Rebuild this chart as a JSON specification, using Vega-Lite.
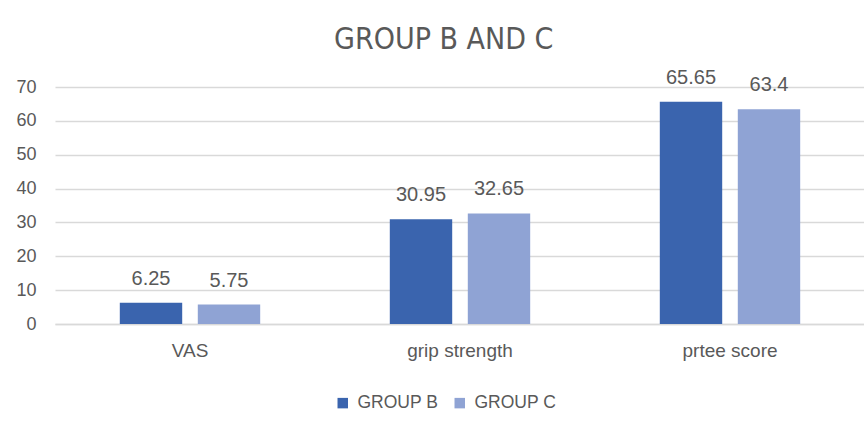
{
  "$schema": "https://vega.github.io/schema/vega-lite/v6.json",
  "width": 810,
  "height": 237,
  "autosize": {"type": "none"},
  "padding": {"left": 55, "top": 87, "right": 0, "bottom": 98},
  "background": "white",
  "title": {
    "text": "GROUP B AND C",
    "font": "Liberation Sans Narrow, DejaVu Sans Condensed, sans-serif",
    "fontSize": 30,
    "fontWeight": "normal",
    "color": "#595959",
    "anchor": "start",
    "dx": 279,
    "offset": 13,
    "frame": "group"
  },
  "data": {
    "values": [
      {"measure": "VAS", "group": "GROUP B", "value": 6.25},
      {"measure": "VAS", "group": "GROUP C", "value": 5.75},
      {"measure": "grip strength", "group": "GROUP B", "value": 30.95},
      {"measure": "grip strength", "group": "GROUP C", "value": 32.65},
      {"measure": "prtee score", "group": "GROUP B", "value": 65.65},
      {"measure": "prtee score", "group": "GROUP C", "value": 63.4}
    ]
  },
  "encoding": {
    "x": {
      "field": "measure",
      "type": "nominal",
      "sort": null,
      "title": null,
      "scale": {"paddingInner": 0.48, "paddingOuter": 0.24},
      "axis": {
        "labelAngle": 0,
        "labelFont": "Liberation Sans",
        "labelFontSize": 19,
        "labelColor": "#595959",
        "labelPadding": 17,
        "ticks": false,
        "domainColor": "#d9d9d9",
        "domainWidth": 1.5,
        "grid": false
      }
    },
    "xOffset": {
      "field": "group",
      "type": "nominal",
      "scale": {"paddingInner": 0.2, "paddingOuter": 0}
    },
    "y": {
      "field": "value",
      "type": "quantitative",
      "title": null,
      "scale": {"domain": [0, 70], "nice": false},
      "axis": {
        "values": [0, 10, 20, 30, 40, 50, 60, 70],
        "labelFont": "Liberation Sans",
        "labelFontSize": 18,
        "labelColor": "#595959",
        "labelPadding": 19,
        "ticks": false,
        "domain": false,
        "gridColor": "#d9d9d9",
        "gridWidth": 1.5
      }
    }
  },
  "layer": [
    {
      "mark": {"type": "bar"},
      "encoding": {
        "color": {
          "field": "group",
          "type": "nominal",
          "scale": {"domain": ["GROUP B", "GROUP C"], "range": ["#3a64ae", "#8fa3d4"]},
          "legend": {
            "title": null,
            "orient": "none",
            "legendX": 279,
            "legendY": 307,
            "direction": "horizontal",
            "symbolType": "square",
            "symbolSize": 110,
            "symbolStrokeWidth": 0,
            "labelFont": "Liberation Sans",
            "labelFontSize": 17.5,
            "labelColor": "#595959",
            "columnPadding": 12,
            "labelOffset": 6
          }
        }
      }
    },
    {
      "mark": {
        "type": "text",
        "baseline": "bottom",
        "dy": -14,
        "font": "Liberation Sans",
        "fontSize": 20,
        "color": "#595959"
      },
      "encoding": {
        "text": {"field": "value", "type": "quantitative"}
      }
    }
  ],
  "config": {
    "view": {"stroke": null}
  }
}
